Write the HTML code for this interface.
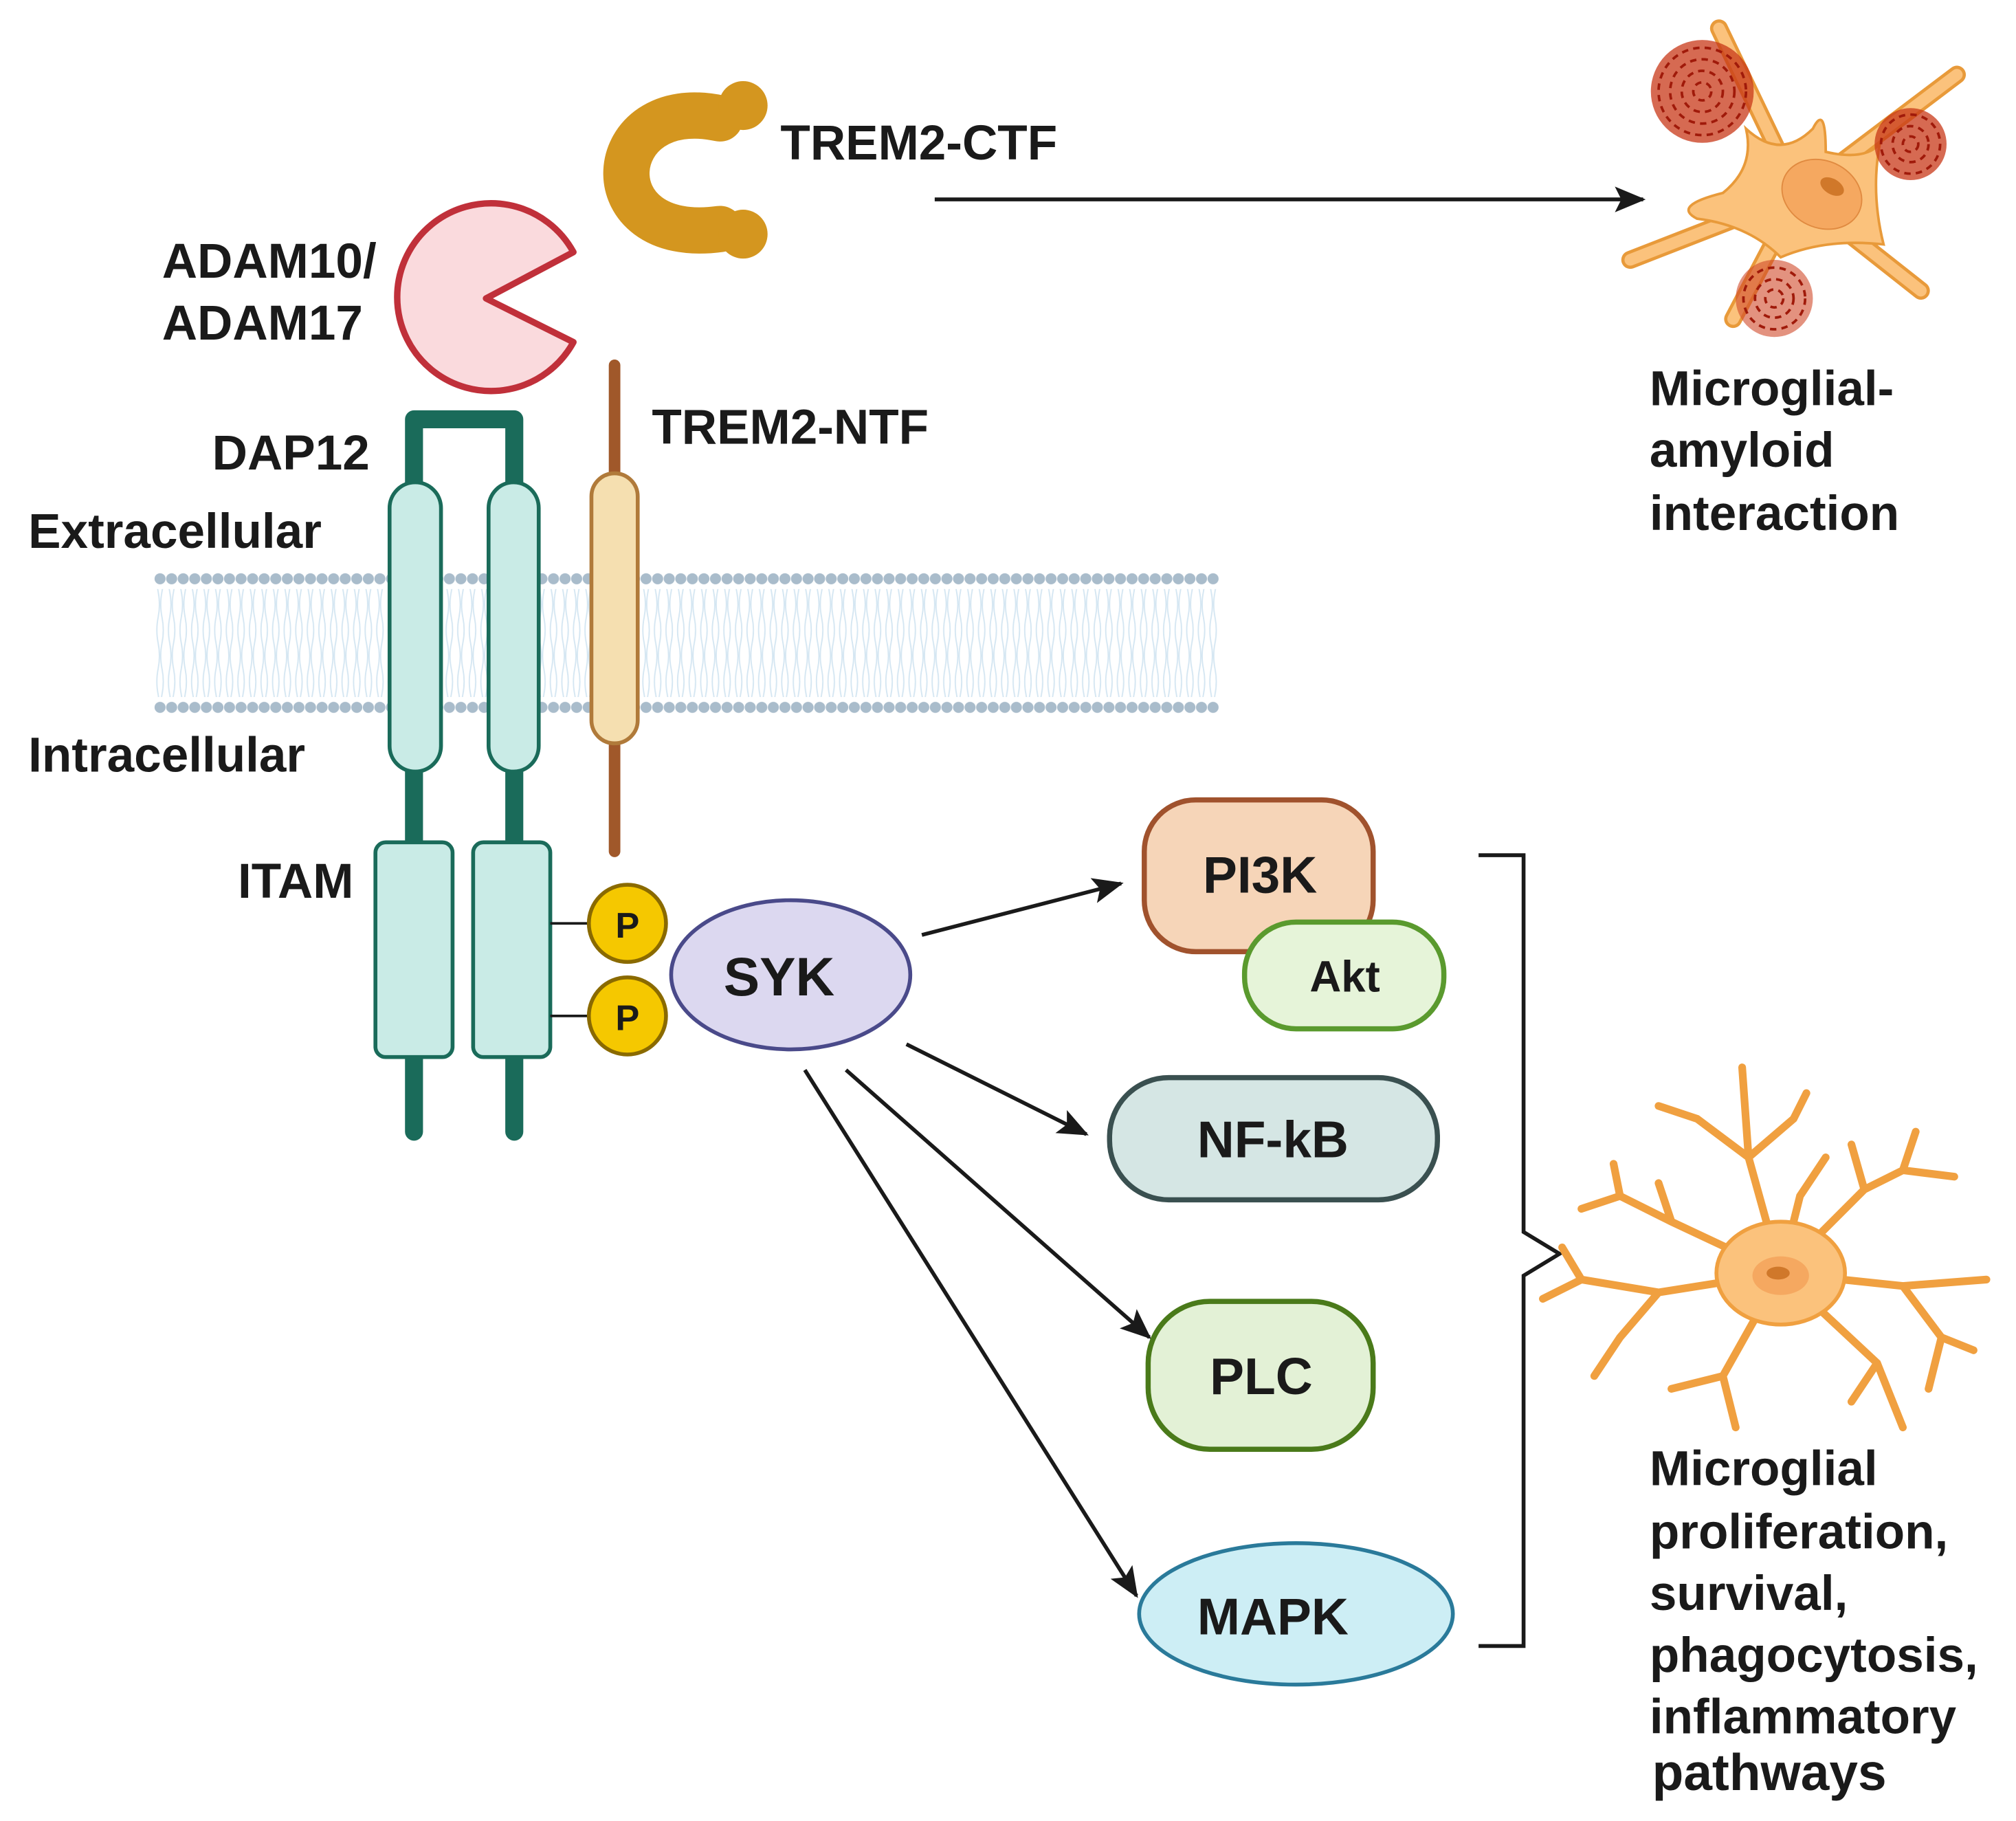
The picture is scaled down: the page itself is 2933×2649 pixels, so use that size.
<!DOCTYPE html>
<html><head><meta charset="utf-8"><style>
html,body{margin:0;padding:0;background:#fff}
svg{display:block}
text{font-family:"Liberation Sans",Arial,sans-serif;font-weight:bold;fill:#1a1a1a}
</style></head><body>
<svg width="2933" height="2649" viewBox="0 0 1568 1416" xmlns="http://www.w3.org/2000/svg">
<defs>
<marker id="ah" markerWidth="24" markerHeight="20" refX="22" refY="10" orient="auto" markerUnits="userSpaceOnUse" viewBox="0 0 24 20">
<path d="M0,0 L24,10 L0,20 L5,10 Z" fill="#1a1a1a"/></marker>
<pattern id="heads" x="120" y="0" width="9" height="20" patternUnits="userSpaceOnUse">
<circle cx="4.5" cy="10" r="4.3" fill="#a9bccb"/></pattern>
<pattern id="tails" x="120" y="0" width="9" height="40" patternUnits="userSpaceOnUse">
<path d="M3,0 Q1,10 3,20 Q5,30 3,40 M6,0 Q8,10 6,20 Q4,30 6,40" stroke="#d4e6f2" stroke-width="1" fill="none"/></pattern>
</defs>

<rect x="120" y="458" width="828" height="84" fill="url(#tails)"/>
<rect x="120" y="440" width="828" height="20" fill="url(#heads)"/>
<rect x="120" y="540" width="828" height="20" fill="url(#heads)"/>

<path d="M560,92 C468,72 458,192 560,178" fill="none" stroke="#d4961f" stroke-width="36" stroke-linecap="round"/>
<circle cx="578" cy="82" r="19" fill="#d4961f"/>
<circle cx="578" cy="182" r="19" fill="#d4961f"/>
<text x="607" y="124" font-size="38">TREM2-CTF</text>
<line x1="727" y1="155" x2="1278" y2="155" stroke="#1a1a1a" stroke-width="3" marker-end="url(#ah)"/>

<path d="M378,232 L446,196 A73,73 0 1,0 446,266 Z" fill="#fadadd" stroke="#c0303a" stroke-width="5" stroke-linejoin="round"/>
<text x="126" y="216" font-size="38">ADAM10/</text>
<text x="126" y="264" font-size="38">ADAM17</text>

<path d="M322,880 V326 H400 V880" fill="none" stroke="#1a6b5a" stroke-width="14" stroke-linecap="round" stroke-linejoin="round"/>
<rect x="303" y="375" width="40" height="225" rx="20" fill="#c9ebe6" stroke="#1a6b5a" stroke-width="3"/>
<rect x="380" y="375" width="39" height="225" rx="20" fill="#c9ebe6" stroke="#1a6b5a" stroke-width="3"/>
<rect x="292" y="655" width="60" height="167" rx="8" fill="#c9ebe6" stroke="#1a6b5a" stroke-width="3"/>
<rect x="368" y="655" width="60" height="167" rx="8" fill="#c9ebe6" stroke="#1a6b5a" stroke-width="3"/>

<line x1="478" y1="284" x2="478" y2="662" stroke="#a0582a" stroke-width="9" stroke-linecap="round"/>
<rect x="460" y="368" width="36" height="210" rx="18" fill="#f5dfb0" stroke="#b07a3a" stroke-width="3"/>
<text x="507" y="345" font-size="38">TREM2-NTF</text>

<text x="165" y="365" font-size="38">DAP12</text>
<text x="22" y="426" font-size="38">Extracellular</text>
<text x="22" y="600" font-size="38">Intracellular</text>
<text x="185" y="698" font-size="38">ITAM</text>

<line x1="428" y1="718" x2="460" y2="718" stroke="#1a1a1a" stroke-width="2"/>
<line x1="428" y1="790" x2="460" y2="790" stroke="#1a1a1a" stroke-width="2"/>
<circle cx="488" cy="718" r="30" fill="#f5c800" stroke="#8a6a00" stroke-width="3"/>
<circle cx="488" cy="790" r="30" fill="#f5c800" stroke="#8a6a00" stroke-width="3"/>
<text x="488" y="729" font-size="28" text-anchor="middle">P</text>
<text x="488" y="801" font-size="28" text-anchor="middle">P</text>

<ellipse cx="615" cy="758" rx="93" ry="58" fill="#dcd8f0" stroke="#4a4a8a" stroke-width="3"/>
<text x="606" y="774" font-size="42" text-anchor="middle">SYK</text>

<line x1="717" y1="727" x2="872" y2="687" stroke="#1a1a1a" stroke-width="3" marker-end="url(#ah)"/>
<line x1="705" y1="812" x2="845" y2="882" stroke="#1a1a1a" stroke-width="3" marker-end="url(#ah)"/>
<line x1="658" y1="832" x2="894" y2="1040" stroke="#1a1a1a" stroke-width="3" marker-end="url(#ah)"/>
<line x1="626" y1="832" x2="884" y2="1241" stroke="#1a1a1a" stroke-width="3" marker-end="url(#ah)"/>

<rect x="890" y="622" width="178" height="118" rx="40" fill="#f6d5b8" stroke="#a0522d" stroke-width="4"/>
<text x="980" y="694" font-size="40" text-anchor="middle">PI3K</text>
<rect x="968" y="717" width="155" height="83" rx="40" fill="#e6f4d9" stroke="#5a9a2e" stroke-width="4"/>
<text x="1046" y="771" font-size="34" text-anchor="middle">Akt</text>
<rect x="863" y="838" width="255" height="95" rx="46" fill="#d5e6e4" stroke="#3a5050" stroke-width="4"/>
<text x="990" y="900" font-size="40" text-anchor="middle">NF-kB</text>
<rect x="893" y="1012" width="175" height="115" rx="48" fill="#e3f1d6" stroke="#4a7a1a" stroke-width="4"/>
<text x="981" y="1084" font-size="40" text-anchor="middle">PLC</text>
<ellipse cx="1008" cy="1255" rx="122" ry="55" fill="#cdeef5" stroke="#2a7a9a" stroke-width="3"/>
<text x="990" y="1271" font-size="40" text-anchor="middle">MAPK</text>

<path d="M1150,665 H1185 V958 L1213,975 L1185,992 V1280 H1150" fill="none" stroke="#1a1a1a" stroke-width="3"/>

<g stroke="#e89a3a" stroke-width="14" stroke-linecap="round" fill="none">
<line x1="1399" y1="151" x2="1337" y2="22"/>
<line x1="1399" y1="151" x2="1522" y2="58"/>
<line x1="1399" y1="151" x2="1268" y2="202"/>
<line x1="1399" y1="151" x2="1348" y2="248"/>
<line x1="1399" y1="151" x2="1494" y2="226"/>
</g>
<g stroke="#fbc27c" stroke-width="9" stroke-linecap="round" fill="none">
<line x1="1399" y1="151" x2="1337" y2="22"/>
<line x1="1399" y1="151" x2="1522" y2="58"/>
<line x1="1399" y1="151" x2="1268" y2="202"/>
<line x1="1399" y1="151" x2="1348" y2="248"/>
<line x1="1399" y1="151" x2="1494" y2="226"/>
</g>
<path d="M1358,100 Q1385,125 1410,100 Q1420,80 1420,118 Q1450,125 1462,112 Q1455,150 1465,190 Q1420,185 1385,200 Q1360,175 1320,170 Q1300,160 1340,150 Q1365,130 1358,100 Z" fill="#fbc27c" stroke="#e89a3a" stroke-width="2"/>
<ellipse cx="1417" cy="151" rx="32" ry="26" transform="rotate(25 1417 151)" fill="#f5a860" stroke="#e08a40" stroke-width="1"/>
<ellipse cx="1425" cy="145" rx="10" ry="6" transform="rotate(30 1425 145)" fill="#d0782a"/>
<circle cx="1324" cy="71" r="40" fill="#c83818" opacity="0.75"/>
<circle cx="1486" cy="112" r="28" fill="#c83818" opacity="0.75"/>
<circle cx="1380" cy="232" r="30" fill="#d04a2a" opacity="0.6"/>
<g fill="none" stroke="#a01a0a" stroke-width="2" stroke-dasharray="5 4">
<circle cx="1324" cy="71" r="34"/><circle cx="1324" cy="71" r="25"/><circle cx="1324" cy="71" r="16"/><circle cx="1324" cy="71" r="7"/>
<circle cx="1486" cy="112" r="23"/><circle cx="1486" cy="112" r="14"/><circle cx="1486" cy="112" r="6"/>
<circle cx="1380" cy="232" r="24"/><circle cx="1380" cy="232" r="15"/><circle cx="1380" cy="232" r="7"/>
</g>

<text x="1283" y="315" font-size="38">Microglial-</text>
<text x="1283" y="363" font-size="38">amyloid</text>
<text x="1283" y="412" font-size="38">interaction</text>

<g stroke="#f0a040" stroke-width="6" stroke-linecap="round" fill="none">
<path d="M1385,990 L1360,900 L1355,830 M1360,900 L1395,870 L1405,850 M1360,900 L1320,870 L1290,860"/>
<path d="M1385,990 L1450,925 L1480,910 L1520,915 M1450,925 L1440,890 M1480,910 L1490,880"/>
<path d="M1385,990 L1480,1000 L1545,995 M1480,1000 L1510,1040 L1535,1050 M1510,1040 L1500,1080"/>
<path d="M1385,990 L1460,1060 L1480,1110 M1460,1060 L1440,1090"/>
<path d="M1385,990 L1340,1070 L1350,1110 M1340,1070 L1300,1080"/>
<path d="M1385,990 L1290,1005 L1230,995 L1200,1010 M1290,1005 L1260,1040 L1240,1070 M1230,995 L1215,970"/>
<path d="M1385,990 L1300,950 L1260,930 L1230,940 M1300,950 L1290,920 M1260,930 L1255,905"/>
<path d="M1385,990 L1400,930 L1420,900"/>
</g>
<ellipse cx="1385" cy="990" rx="50" ry="40" fill="#fbc27c" stroke="#f0a040" stroke-width="3"/>
<ellipse cx="1385" cy="992" rx="22" ry="15" fill="#f5a860"/>
<ellipse cx="1383" cy="990" rx="9" ry="5" fill="#d0782a"/>

<text x="1283" y="1155" font-size="38">Microglial</text>
<text x="1283" y="1204" font-size="38">proliferation,</text>
<text x="1283" y="1252" font-size="38">survival,</text>
<text x="1283" y="1300" font-size="38">phagocytosis,</text>
<text x="1283" y="1348" font-size="38">inflammatory</text>
<text x="1285" y="1392" font-size="40">pathways</text>
</svg>
</body></html>
